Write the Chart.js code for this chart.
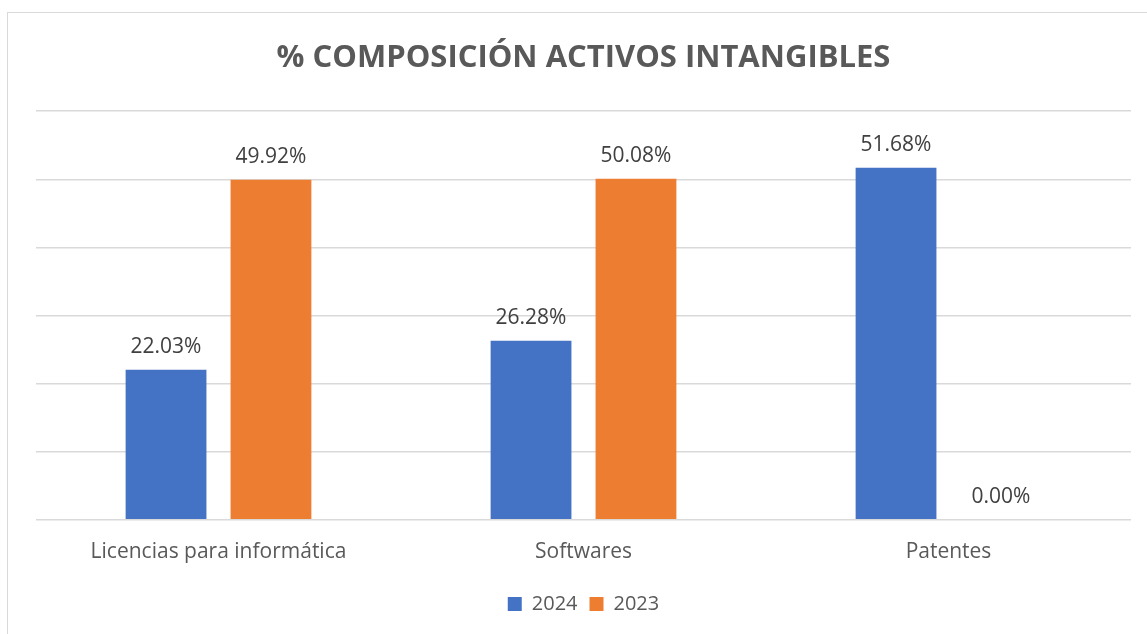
<!DOCTYPE html>
<html>
<head>
<meta charset="utf-8">
<script src="https://cdn.jsdelivr.net/npm/chart.js@4.4.1/dist/chart.umd.min.js"></script>
<style>
  html, body { margin: 0; padding: 0; background: #fff; overflow: hidden; }
  #frame {
    position: absolute; left: 7px; top: 12px;
    width: 1200px; height: 700px;
    border: 1px solid #d9d9d9;
  }
  #wrap { position: absolute; left: 0; top: 0; width: 1147px; height: 634px; }
</style>
</head>
<body>
<div id="frame"></div>
<div id="wrap"><canvas id="chart"></canvas></div>
<script>
const categories = ["Licencias para informática", "Softwares", "Patentes"];
const series2024 = [22.03, 26.28, 51.68];
const series2023 = [49.92, 50.08, 0.00];
const seriesNames = ["2024", "2023"];

const BLUE = '#4472C4';
const ORANGE = '#ED7D31';
const GRID = '#d9d9d9';
const TEXT = '#595959';

// draws the value above each bar
const valueLabels = {
  id: 'valueLabels',
  afterDatasetsDraw(chart) {
    const ctx = chart.ctx;
    ctx.save();
    ctx.font = "21px 'Open Sans'";
    ctx.fillStyle = '#404040';
    ctx.textAlign = 'center';
    ctx.textBaseline = 'middle';
    chart.data.datasets.forEach((ds, i) => {
      chart.getDatasetMeta(i).data.forEach((bar, j) => {
        ctx.fillText(ds.data[j].toFixed(2) + '%', bar.x, bar.y - 23);
      });
    });
    ctx.restore();
  }
};

new Chart(document.getElementById('chart'), {
  type: 'bar',
  data: {
    labels: categories,
    datasets: [{
      label: seriesNames[0],
      data: series2024,
      backgroundColor: BLUE,
      categoryPercentage: 0.575,
      barPercentage: 0.77,
    }, {
      label: seriesNames[1],
      data: series2023,
      backgroundColor: ORANGE,
      categoryPercentage: 0.575,
      barPercentage: 0.77,
    }]
  },
  options: {
    responsive: true,
    maintainAspectRatio: false,
    animation: false,
    layout: { padding: { left: 36, right: 16, top: 0, bottom: 10 } },
    plugins: {
      title: {
        display: true,
        text: '% COMPOSICIÓN ACTIVOS INTANGIBLES',
        color: TEXT,
        font: { family: "'Open Sans'", size: 31, weight: 'bold' },
        padding: { top: 40, bottom: 34 }
      },
      legend: {
        position: 'bottom',
        labels: {
          color: TEXT,
          font: { family: "'Open Sans'", size: 20 },
          boxWidth: 14,
          boxHeight: 14,
          padding: 12
        }
      },
      tooltip: { enabled: false }
    },
    scales: {
      x: {
        grid: { display: false, drawTicks: false },
        border: { display: false },
        ticks: { color: TEXT, font: { family: "'Open Sans'", size: 21 }, padding: 20 },
        afterFit(scale) { scale.height -= 3; }
      },
      y: {
        min: 0,
        max: 60,
        ticks: { display: false, stepSize: 10 },
        grid: { color: GRID, lineWidth: 1.5, drawTicks: false },
        border: { display: false }
      }
    }
  },
  plugins: [valueLabels]
});
</script>
</body>
</html>
